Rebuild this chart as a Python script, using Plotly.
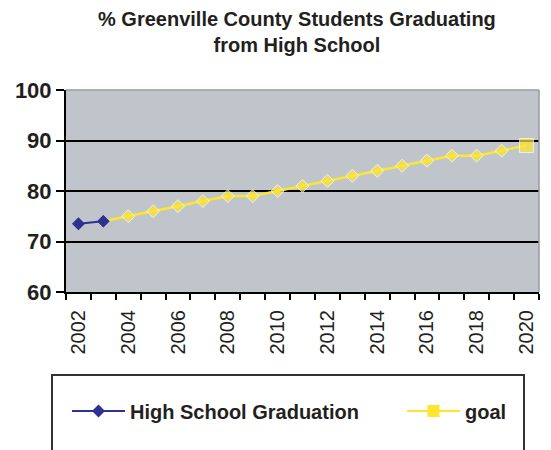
import plotly.graph_objects as go

# Graduation rates (actual) and the county's goal trajectory
hs_years = [2002, 2003]
hs_rate = [73.5, 74]
goal_years = list(range(2003, 2021))
goal_rate = [74, 75, 76, 77, 78, 79, 79, 80, 81, 82, 83, 84, 85, 86, 87, 87, 88, 89]
tick_years = [2002, 2004, 2006, 2008, 2010, 2012, 2014, 2016, 2018, 2020]
y_ticks = [60, 70, 80, 90, 100]

BLUE = "#2E3192"
YELLOW = "#FFE62E"
FONT = "Liberation Sans, Arial, sans-serif"
TEXT = "#231F20"

W, H = 551, 450
L, R, T, B = 66, 12, 90, 158
pw, ph = W - L - R, H - T - B

def px_x(x):
    return (x - L) / pw

def px_y(y):
    return (H - B - y) / ph

goal_symbols = ["diamond"] * (len(goal_rate) - 1) + ["square"]
goal_sizes = [10] * (len(goal_rate) - 1) + [14]

fig = go.Figure()
fig.add_trace(go.Scatter(
    x=goal_years, y=goal_rate, mode="lines+markers", showlegend=False,
    line=dict(color=YELLOW, width=2.5),
    marker=dict(symbol=goal_symbols, size=goal_sizes, color=YELLOW),
))
fig.add_trace(go.Scatter(
    x=hs_years, y=hs_rate, mode="lines+markers", name="High School Graduation",
    line=dict(color=BLUE, width=2),
    marker=dict(symbol="diamond", size=10, color=BLUE),
    legend="legend",
))
# legend entry for the goal series (square marker)
fig.add_trace(go.Scatter(
    x=[None], y=[None], mode="lines+markers", name="goal",
    line=dict(color=YELLOW, width=2),
    marker=dict(symbol="square", size=12, color=YELLOW),
    legend="legend2",
))

legend_common = dict(
    orientation="h", xanchor="left",
    y=px_y(411), yanchor="middle",
    bgcolor="rgba(0,0,0,0)", borderwidth=0,
    font=dict(size=20, family=FONT, color=TEXT, weight="bold"),
    itemwidth=53,
)

fig.update_layout(
    width=W, height=H,
    margin=dict(l=L, r=R, t=T, b=B),
    paper_bgcolor="white",
    plot_bgcolor="#C0C5CC",
    font=dict(family=FONT, color=TEXT),
    showlegend=True,
    legend=dict(x=px_x(67), **legend_common),
    legend2=dict(x=px_x(402), **legend_common),
    annotations=[
        dict(text="<b>% Greenville County Students Graduating<br>from High School</b>",
             xref="paper", yref="paper", x=px_x(297), y=px_y(6),
             xanchor="center", yanchor="top", showarrow=False,
             font=dict(size=20, family=FONT, color=TEXT)),
    ],
    shapes=[
        # legend frame
        dict(type="rect", xref="paper", yref="paper",
             x0=px_x(52), x1=px_x(524), y0=px_y(375), y1=px_y(470),
             line=dict(color="#333333", width=2), fillcolor="rgba(0,0,0,0)"),
        # top and right plot border
        dict(type="line", xref="paper", yref="paper", x0=0, x1=1, y0=1, y1=1,
             line=dict(color="#9A9A9A", width=1.5)),
        dict(type="line", xref="paper", yref="paper", x0=1, x1=1, y0=0, y1=1,
             line=dict(color="#9A9A9A", width=1.5)),
    ],
)

fig.update_xaxes(
    range=[2001.5, 2020.5],
    tickmode="array", tickvals=tick_years, ticktext=[str(t) for t in tick_years],
    tickangle=-90, ticks="", ticklabelstandoff=8,
    tickfont=dict(size=20, family=FONT, color=TEXT),
    showgrid=False, zeroline=False,
    showline=True, linecolor="black", linewidth=2,
    minor=dict(ticks="outside", tick0=2001.5, dtick=1, ticklen=6,
               tickcolor="black", tickwidth=2, showgrid=False),
)
fig.update_yaxes(
    range=[60, 100], tickmode="array", tickvals=y_ticks,
    ticks="outside", ticklen=8, tickcolor="black", tickwidth=2,
    ticklabelstandoff=0,
    tickfont=dict(size=22, family=FONT, color=TEXT, weight="bold"),
    showgrid=True, gridcolor="black", gridwidth=1.5,
    zeroline=False, showline=True, linecolor="black", linewidth=2,
)

fig.write_html("out.html")
